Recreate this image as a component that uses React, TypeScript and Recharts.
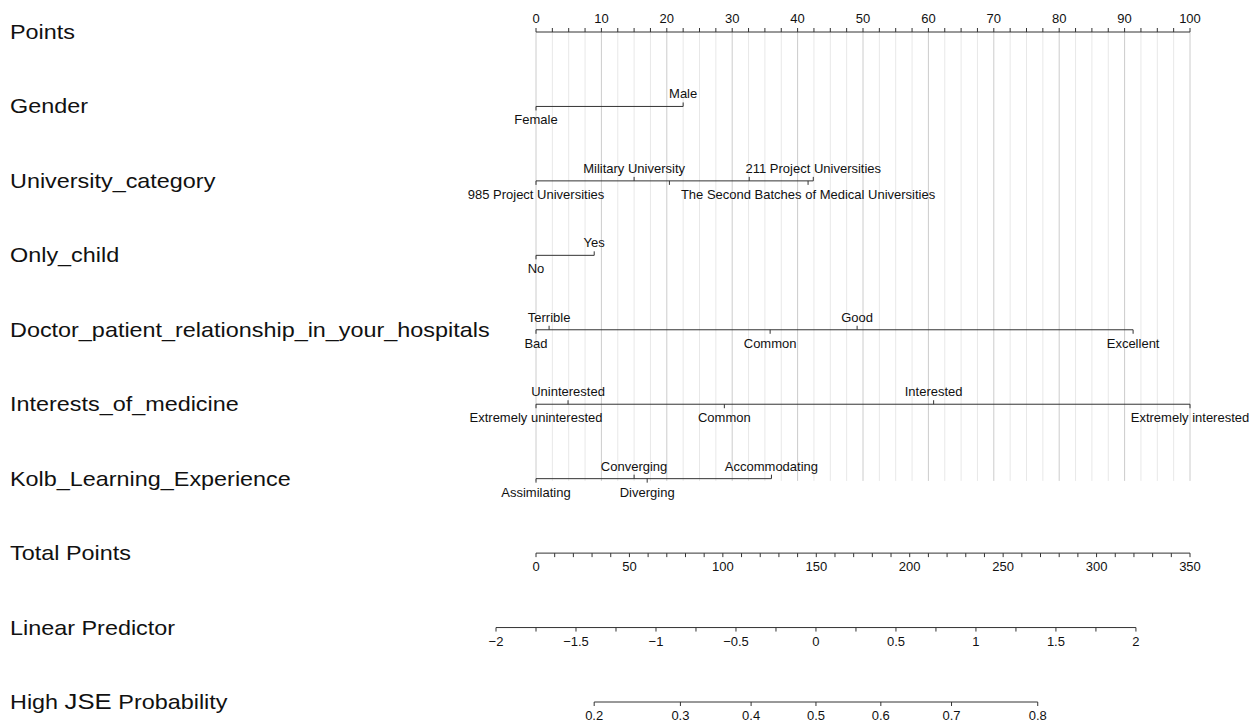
import React from 'react';
import { ScatterChart, Scatter, XAxis, YAxis, ReferenceLine } from 'recharts';

// nomogram rows, top to bottom
const rowNames = [
  'Points',
  'Gender',
  'University_category',
  'Only_child',
  'Doctor_patient_relationship_in_your_hospitals',
  'Interests_of_medicine',
  'Kolb_Learning_Experience',
  'Total Points',
  'Linear Predictor',
  'High JSE Probability',
];

// axis tick labels
const pointsLabels = [0, 10, 20, 30, 40, 50, 60, 70, 80, 90, 100];
const totalLabels = [0, 50, 100, 150, 200, 250, 300, 350];
const lpLabels = [-2, -1.5, -1, -0.5, 0, 0.5, 1, 1.5, 2];
const probLabels = [0.2, 0.3, 0.4, 0.5, 0.6, 0.7, 0.8];

// points for each level (sorted by points)
const genderLevels = ['Female', 'Male'];
const genderPoints = [0, 22.5];
const universityLevels = ['985 Project Universities', 'Military University', '', '', 'The Second Batches of Medical Universities', '211 Project Universities'];
const universityPoints = [0, 15, 20.4, 32.6, 41.6, 42.4];
const onlyChildLevels = ['No', 'Yes'];
const onlyChildPoints = [0, 8.9];
const doctorLevels = ['Bad', 'Terrible', 'Common', 'Good', 'Excellent'];
const doctorPoints = [0, 2.0, 35.8, 49.1, 91.3];
const interestLevels = ['Extremely uninterested', 'Uninterested', 'Common', 'Interested', 'Extremely interested'];
const interestPoints = [0, 4.9, 28.8, 60.8, 100];
const kolbLevels = ['Assimilating', 'Converging', 'Diverging', 'Accommodating'];
const kolbPoints = [0, 15.0, 17.0, 36.0];

// model scale: total points axis max, linear predictor = intercept + slope * total
const totalMax = 350;
const lpIntercept = -1.75;
const lpSlope = 0.01168;

const INK = '#333';
const FONT = '"Liberation Sans", Arial, Helvetica, sans-serif';

const totalToPts = (t: number) => (t * 100) / totalMax;
const lpToPts = (v: number) => totalToPts((v - lpIntercept) / lpSlope);
const probToPts = (p: number) => lpToPts(Math.log(p / (1 - p)));

const fmtNum = (v: number) => (v < 0 ? '\u2212' + Math.abs(v) : String(v));

const variables = [
  { row: 1, levels: genderLevels, points: genderPoints },
  { row: 2, levels: universityLevels, points: universityPoints },
  { row: 3, levels: onlyChildLevels, points: onlyChildPoints },
  { row: 4, levels: doctorLevels, points: doctorPoints },
  { row: 5, levels: interestLevels, points: interestPoints },
  { row: 6, levels: kolbLevels, points: kolbPoints },
];

const levelData = variables.map(v =>
  v.levels.map((lv, i) => ({ x: v.points[i], y: v.row, label: lv, up: i % 2 === 1 }))
);

const steps = (from: number, to: number, step: number) => {
  const out: number[] = [];
  for (let v = from; v <= to + 1e-9; v += step) out.push(Math.round(v * 1000) / 1000);
  return out;
};

const pointTicks = steps(0, 100, 2.5);
const totalData = steps(0, totalMax, 10).map(t => ({
  x: totalToPts(t), y: 7, label: totalLabels.includes(t) ? String(t) : '',
}));
const lpData = steps(-2, 2, 0.25).map(v => ({
  x: lpToPts(v), y: 8, label: lpLabels.includes(v) ? fmtNum(v) : '',
}));
const probData = probLabels.map(p => ({ x: probToPts(p), y: 9, label: String(p) }));

const LevelMark = (props: any) => {
  const { cx, cy, payload } = props;
  const up = payload.up;
  return (
    <g>
      <line x1={cx} x2={cx} y1={cy} y2={up ? cy - 4 : cy + 4} stroke={INK} />
      {payload.label ? (
        <text x={cx} y={up ? cy - 8 : cy + 18} textAnchor="middle" fontSize={13} fontFamily={FONT} fill="#111">
          {payload.label}
        </text>
      ) : null}
    </g>
  );
};

const AxisMark = (props: any) => {
  const { cx, cy, payload } = props;
  return (
    <g>
      <line x1={cx} x2={cx} y1={cy} y2={cy + 4} stroke={INK} />
      {payload.label ? (
        <text x={cx} y={cy + 18} textAnchor="middle" fontSize={13} fontFamily={FONT} fill="#111">
          {payload.label}
        </text>
      ) : null}
    </g>
  );
};

const RowName = (props: any) => {
  const { y, payload } = props;
  const name: string = rowNames[payload.value];
  const parts = name.split('JSE');
  return (
    <text
      transform={`translate(10, ${y}) scale(1.17, 1)`}
      x={0}
      y={0}
      dy="0.35em"
      fontSize={20}
      fontFamily={FONT}
      fill="#111"
    >
      {parts.length > 1 ? (
        <>
          {parts[0]}
          <tspan fontSize={22}>JSE</tspan>
          {parts[1]}
        </>
      ) : (
        name
      )}
    </text>
  );
};

const PointsTick = (props: any) => {
  const { x, y, payload } = props;
  if (!pointsLabels.includes(payload.value)) return null;
  return (
    <text x={x} y={y} textAnchor="middle" fontSize={13} fontFamily={FONT} fill="#111">
      {payload.value}
    </text>
  );
};

export default function App() {
  return (
    <div style={{ position: 'absolute', left: 0, top: 0, width: 1258, height: 727, background: '#fff' }}>
      <ScatterChart width={1258} height={727} margin={{ top: 0, right: 68, bottom: 25, left: 0 }}>
        <XAxis
          type="number"
          dataKey="x"
          orientation="top"
          domain={[-10, 100]}
          ticks={pointTicks}
          height={32}
          axisLine={false}
          tickSize={4}
          tickMargin={5}
          tickLine={{ stroke: INK }}
          tick={<PointsTick />}
          interval={0}
        />
        <YAxis
          type="number"
          dataKey="y"
          domain={[0, 9]}
          reversed
          ticks={[0, 1, 2, 3, 4, 5, 6, 7, 8, 9]}
          width={470.6}
          axisLine={false}
          tickLine={false}
          tick={<RowName />}
          interval={0}
        />

        {pointTicks.map(g => (
          <ReferenceLine
            key={'g' + g}
            segment={[{ x: g, y: 0 }, { x: g, y: 6.03 }]}
            stroke={g % 10 === 0 ? '#cccccc' : '#e8e8e8'}
            strokeWidth={1}
            ifOverflow="visible"
          />
        ))}

        <ReferenceLine segment={[{ x: 0, y: 0 }, { x: 100, y: 0 }]} stroke={INK} ifOverflow="visible" />
        {variables.map(v => (
          <ReferenceLine
            key={'v' + v.row}
            segment={[{ x: Math.min(...v.points), y: v.row }, { x: Math.max(...v.points), y: v.row }]}
            stroke={INK}
            ifOverflow="visible"
          />
        ))}
        <ReferenceLine segment={[{ x: totalToPts(0), y: 7 }, { x: totalToPts(totalMax), y: 7 }]} stroke={INK} ifOverflow="visible" />
        <ReferenceLine segment={[{ x: lpToPts(-2), y: 8 }, { x: lpToPts(2), y: 8 }]} stroke={INK} ifOverflow="visible" />
        <ReferenceLine
          segment={[{ x: probToPts(probLabels[0]), y: 9 }, { x: probToPts(probLabels[probLabels.length - 1]), y: 9 }]}
          stroke={INK}
          ifOverflow="visible"
        />

        {levelData.map((d, i) => (
          <Scatter key={'s' + i} data={d} shape={<LevelMark />} isAnimationActive={false} />
        ))}
        <Scatter data={totalData} shape={<AxisMark />} isAnimationActive={false} />
        <Scatter data={lpData} shape={<AxisMark />} isAnimationActive={false} />
        <Scatter data={probData} shape={<AxisMark />} isAnimationActive={false} />
      </ScatterChart>
    </div>
  );
}
